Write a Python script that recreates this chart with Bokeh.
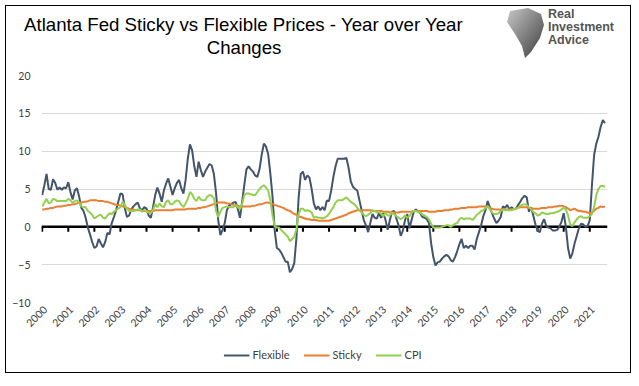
import math
from bokeh.plotting import figure
from bokeh.layouts import column
from bokeh.models import (FixedTicker, Span, Legend, LegendItem, Range1d, Div)
from bokeh.embed import file_html
from bokeh.resources import INLINE

# ---------------- data (monthly, Jan 2000 - Aug 2021) ----------------
start_year = 2000
flexible = [
    4.2, 5.5, 7.0, 5.0, 4.9, 6.3, 5.8, 4.9, 5.2, 4.9, 5.2, 5.1,
    5.9, 4.6, 3.6, 4.8, 5.1, 4.0, 2.5, 2.1, 1.2, -0.1, -1.0, -2.0,
    -2.8, -2.6, -1.6, -2.2, -2.7, -2.0, -0.8, -1.0, 0.5, 1.3, 2.2, 3.3,
    4.4, 4.3, 2.5, 1.3, 1.5, 2.3, 2.7, 3.0, 3.2, 2.4, 2.2, 2.6,
    2.4, 1.5, 1.2, 2.6, 4.2, 5.2, 4.4, 3.3, 4.8, 5.7, 6.4, 5.3,
    4.2, 5.1, 5.8, 6.2, 5.1, 4.4, 6.2, 9.0, 10.9, 10.1, 8.0, 6.6,
    8.6, 7.5, 6.6, 7.3, 7.8, 8.3, 8.1, 7.0, 4.5, 0.9, -1.1, -0.4,
    0.5, 2.2, 2.8, 3.0, 3.2, 3.3, 2.4, 1.2, 3.3, 5.5, 7.6, 8.0,
    7.6, 7.3, 6.8, 6.6, 7.6, 9.5, 11.0, 10.6, 9.6, 7.0, 4.0, -0.5,
    -2.8, -3.0, -3.4, -4.0, -4.6, -4.6, -6.0, -5.6, -4.8, -1.5, 3.8, 7.0,
    7.3, 6.2, 6.8, 6.5, 5.0, 3.1, 2.3, 2.7, 2.2, 2.6, 2.2, 3.5,
    3.4, 4.8, 6.6, 8.0, 9.0, 9.0, 9.0, 9.0, 9.1, 7.8, 6.0, 5.3,
    5.0, 4.8, 3.5, 2.2, 0.9, 0.2, -0.7, 0.5, 1.7, 1.2, 1.1, 1.8,
    1.2, 1.8, 0.9, -0.4, 0.9, 2.0, 2.1, 1.1, 0.2, -1.2, -0.5, 0.9,
    1.7, -0.2, 0.9, 2.0, 2.3, 2.0, 1.8, 1.3, 1.2, 1.0, 0.5, -2.2,
    -4.0, -5.1, -4.7, -4.6, -4.2, -3.9, -3.7, -3.9, -4.4, -4.6, -4.0, -3.2,
    -2.3, -1.6, -2.8, -2.5, -2.8, -2.5, -2.5, -3.0, -1.6, -0.7, 0.2, 1.4,
    2.2, 3.4, 2.6, 1.8, 1.1, 0.5, 0.8, 1.3, 2.7, 2.5, 2.9, 2.3,
    2.6, 2.3, 2.4, 2.9, 3.3, 3.8, 4.1, 3.9, 2.0, 2.6, 1.5, 0.3,
    -0.5, -0.7, 0.4, 1.0, 0.1, -0.1, -0.2, -0.5, -0.5, -0.4, 0.0, 0.7,
    1.8, 0.0, -2.8, -4.2, -3.5, -2.2, -1.2, -0.2, 0.4, 0.3, 0.0, 0.1,
    0.9, 5.5, 9.5, 11.0, 11.9, 13.2, 14.1, 13.7,
]
sticky = [
    2.3, 2.3, 2.4, 2.4, 2.5, 2.5, 2.6, 2.7, 2.7, 2.7, 2.8, 2.8,
    2.9, 2.9, 3.0, 3.0, 3.1, 3.2, 3.2, 3.3, 3.3, 3.4, 3.5, 3.5,
    3.5, 3.5, 3.4, 3.4, 3.4, 3.3, 3.3, 3.2, 3.1, 3.0, 2.9, 2.9,
    2.8, 2.7, 2.6, 2.5, 2.4, 2.3, 2.3, 2.2, 2.2, 2.2, 2.1, 2.1,
    2.1, 2.1, 2.1, 2.1, 2.2, 2.2, 2.2, 2.2, 2.2, 2.2, 2.2, 2.2,
    2.2, 2.3, 2.3, 2.3, 2.3, 2.3, 2.3, 2.4, 2.4, 2.4, 2.4, 2.4,
    2.5, 2.5, 2.6, 2.6, 2.7, 2.8, 2.9, 3.0, 3.1, 3.2, 3.2, 3.2,
    3.2, 3.1, 3.1, 3.0, 2.9, 2.8, 2.8, 2.7, 2.7, 2.7, 2.7, 2.7,
    2.7, 2.8, 2.8, 2.9, 3.0, 3.0, 3.1, 3.2, 3.2, 3.1, 3.0, 2.9,
    2.8, 2.7, 2.6, 2.5, 2.3, 2.2, 2.1, 1.9, 1.7, 1.6, 1.4, 1.3,
    1.2, 1.1, 1.0, 1.0, 0.9, 0.9, 0.9, 0.8, 0.8, 0.8, 0.8, 0.8,
    0.8, 0.9, 1.0, 1.1, 1.2, 1.3, 1.4, 1.5, 1.6, 1.8, 1.9, 2.0,
    2.1, 2.2, 2.2, 2.2, 2.2, 2.2, 2.2, 2.2, 2.1, 2.1, 2.1, 2.1,
    2.1, 2.0, 2.0, 2.0, 1.9, 1.9, 1.9, 1.9, 1.9, 2.0, 2.0, 2.0,
    2.0, 2.0, 2.0, 2.1, 2.1, 2.1, 2.1, 2.1, 2.1, 2.1, 2.0, 2.0,
    2.0, 2.0, 2.1, 2.1, 2.1, 2.2, 2.2, 2.2, 2.3, 2.3, 2.4, 2.4,
    2.4, 2.5, 2.5, 2.5, 2.6, 2.6, 2.6, 2.6, 2.6, 2.7, 2.7, 2.7,
    2.7, 2.7, 2.5, 2.4, 2.3, 2.3, 2.3, 2.3, 2.3, 2.3, 2.3, 2.3,
    2.3, 2.4, 2.4, 2.5, 2.6, 2.6, 2.6, 2.6, 2.5, 2.5, 2.4, 2.4,
    2.4, 2.4, 2.5, 2.5, 2.5, 2.6, 2.6, 2.6, 2.7, 2.7, 2.8, 2.8,
    2.7, 2.6, 2.4, 2.2, 2.3, 2.4, 2.2, 2.1, 2.1, 2.0, 2.0, 1.9,
    1.8, 1.9, 2.1, 2.4, 2.5, 2.7, 2.6, 2.7,
]
cpi = [
    2.7, 3.2, 3.7, 3.1, 3.2, 3.7, 3.6, 3.4, 3.4, 3.4, 3.4, 3.4,
    3.7, 3.5, 3.2, 3.4, 3.5, 3.2, 2.7, 2.6, 2.6, 2.1, 1.9, 1.6,
    1.1, 1.3, 1.5, 1.6, 1.2, 1.1, 1.5, 1.8, 1.7, 2.0, 2.2, 2.4,
    2.6, 3.3, 2.9, 2.4, 2.1, 2.1, 2.1, 2.2, 2.3, 2.3, 2.0, 2.2,
    2.0, 1.9, 1.8, 2.2, 3.0, 2.6, 3.1, 2.7, 2.6, 3.3, 3.5, 3.0,
    3.0, 3.3, 3.5, 3.4, 2.9, 2.6, 3.1, 3.7, 4.6, 4.3, 3.7, 3.4,
    4.0, 3.6, 3.5, 3.5, 4.0, 4.2, 4.1, 3.8, 2.1, 1.3, 2.0, 2.5,
    2.6, 2.7, 2.6, 2.6, 2.6, 2.9, 2.6, 2.3, 3.0, 4.2, 4.4, 4.4,
    4.3, 4.2, 4.2, 4.6, 5.0, 5.3, 5.5, 5.2, 4.8, 3.5, 1.5, 0.1,
    -0.1, -0.1, -0.4, -0.7, -1.0, -1.3, -1.9, -1.6, -1.3, -0.3, 1.7, 2.4,
    2.4, 2.1, 2.2, 2.1, 1.9, 1.2, 1.3, 1.2, 1.2, 1.1, 1.2, 1.4,
    1.7, 2.2, 2.6, 3.2, 3.5, 3.5, 3.5, 3.7, 3.9, 3.6, 3.3, 3.1,
    2.9, 2.5, 2.2, 1.9, 1.6, 1.4, 1.6, 1.8, 2.2, 2.1, 1.9, 2.0,
    1.7, 1.4, 1.9, 1.5, 1.5, 1.9, 1.7, 1.4, 1.2, 1.0, 1.2, 1.5,
    1.2, 1.4, 1.9, 2.1, 2.1, 2.0, 1.9, 1.6, 1.5, 1.3, 1.0, 0.4,
    -0.1, -0.1, -0.1, -0.1, 0.0, 0.1, 0.2, 0.2, 0.0, 0.2, 0.4, 0.5,
    1.0, 1.2, 1.0, 1.1, 1.1, 1.1, 0.9, 1.2, 1.6, 1.8, 2.1, 2.2,
    2.5, 2.7, 2.3, 1.9, 1.7, 1.7, 1.8, 2.1, 2.3, 2.2, 2.2, 2.2,
    2.2, 2.3, 2.4, 2.5, 2.8, 2.9, 3.0, 2.9, 2.6, 2.3, 2.0, 1.8,
    1.5, 1.6, 1.9, 1.8, 1.7, 1.7, 1.8, 1.8, 1.9, 2.0, 2.1, 2.3,
    2.5, 2.3, 1.5, 0.3, 0.1, 0.6, 1.0, 1.3, 1.4, 1.2, 1.2, 1.2,
    1.4, 1.7, 2.6, 4.2, 5.0, 5.4, 5.4, 5.3,
]
year_ticks = list(range(2000, 2022))
year_labels = [str(y) for y in year_ticks]
y_ticks = [-10, -5, 0, 5, 10, 15, 20]
series_names = ["Flexible", "Sticky", "CPI"]
title_line1 = "Atlanta Fed Sticky vs Flexible Prices - Year over Year"
title_line2 = "Changes"
logo_lines = ["Real", "Investment", "Advice"]

dates = [start_year + i / 12 for i in range(len(flexible))]
all_series = [flexible, sticky, cpi]
colors = ["#44546A", "#ED7D31", "#92D050"]
label_color = "#404040"

# ---------------- header (title + logo) ----------------
W = 624
HEAD_H = 64
logo_svg = (
    '<svg width="42" height="52" style="position:absolute;left:498px;top:1px">'
    '<defs><linearGradient id="g" x1="0" y1="0" x2="1" y2="1">'
    '<stop offset="0" stop-color="#c8c8c8"/><stop offset="1" stop-color="#3c3c3c"/>'
    '</linearGradient></defs>'
    '<polygon points="6,4 24,1 37,7 40,18 36,31 27,45 21,51 18,39 11,27 3,15" '
    'fill="url(#g)"/></svg>'
)
logo_text = "".join(
    f'<div style="position:absolute;left:542px;top:{2 + 13 * i}px;'
    f'font:bold 12.5px \'Liberation Sans\';line-height:13px;color:#555555;'
    f'white-space:nowrap">{t}</div>' for i, t in enumerate(logo_lines))
head_html = (
    f'<div style="position:relative;width:{W}px;height:{HEAD_H}px;'
    f'font-family:\'Liberation Sans\';color:#000">'
    f'<div style="position:absolute;left:18px;top:10px;font-size:18.67px;'
    f'line-height:1;white-space:nowrap">{title_line1}</div>'
    f'<div style="position:absolute;left:138px;width:200px;top:33px;'
    f'text-align:center;font-size:18.67px;line-height:1;white-space:nowrap">'
    f'{title_line2}</div>'
    f'{logo_svg}{logo_text}</div>'
)
header = Div(text=head_html, width=W, height=HEAD_H, margin=0)

# ---------------- main figure ----------------
H = 267
X0, X1 = 1999.973, 2021.68
shift = 3.0 * (X1 - X0) / 566.0   # moves year labels slightly right of their ticks
p = figure(width=W, height=H, output_backend="svg", toolbar_location=None,
           x_range=Range1d(X0, X1), y_range=Range1d(-10, 20),
           min_border_left=35, min_border_right=23, min_border_top=5,
           min_border_bottom=35, background_fill_color="white",
           border_fill_color="white", outline_line_color=None)
p.title.text = ""
p.extra_x_ranges = {"labels": Range1d(X0 - shift, X1 - shift)}

p.xgrid.visible = False
p.ygrid.ticker = FixedTicker(ticks=y_ticks)
p.ygrid.grid_line_color = "#D9D9D9"
p.ygrid.grid_line_width = 1

p.yaxis.ticker = FixedTicker(ticks=y_ticks)
p.yaxis.axis_line_color = None
p.yaxis.major_tick_line_color = None
p.yaxis.major_tick_out = 0
p.yaxis.major_tick_in = 0
p.yaxis.minor_tick_line_color = None
p.yaxis.minor_tick_out = 0
p.yaxis.major_label_standoff = 11
p.yaxis.major_label_text_font = "Lato"
p.yaxis.major_label_text_font_size = "10.5px"
p.yaxis.major_label_text_color = label_color

xa = p.xaxis[0]
xa.x_range_name = "labels"
xa.ticker = FixedTicker(ticks=year_ticks)
xa.major_label_overrides = {y: s for y, s in zip(year_ticks, year_labels)}
xa.axis_line_color = None
xa.major_tick_line_color = None
xa.major_tick_out = 0
xa.major_tick_in = 0
xa.minor_tick_line_color = None
xa.minor_tick_out = 0
xa.major_label_orientation = math.pi / 4
xa.major_label_standoff = 5
xa.major_label_text_font = "Lato"
xa.major_label_text_font_size = "10.5px"
xa.major_label_text_color = label_color

# zero axis line with year tick marks
zero = Span(location=0, dimension="width", line_color="black", line_width=2.5,
            level="underlay")
p.add_layout(zero)
p.segment(x0=year_ticks, y0=[0] * len(year_ticks), x1=year_ticks,
          y1=[-0.65] * len(year_ticks), line_color="black", line_width=2)

for name, vals, col in zip(series_names, all_series, colors):
    p.line(dates, vals, line_color=col, line_width=2)

# ---------------- legend strip ----------------
# same series drawn again but outside this strip's visible range: only their
# legend swatches show
leg = figure(width=W, height=35, output_backend="svg", toolbar_location=None,
             x_range=Range1d(0, 1), y_range=Range1d(100, 101),
             x_axis_type=None, y_axis_type=None, min_border_left=6,
             min_border_right=0, min_border_top=0, min_border_bottom=0,
             background_fill_color="white", border_fill_color="white",
             outline_line_color=None)
leg.title.text = ""
leg.grid.visible = False
leg_renderers = [leg.line(dates, vals, line_color=c, line_width=2)
                 for vals, c in zip(all_series, colors)]
legend = Legend(items=[LegendItem(label=n, renderers=[r])
                       for n, r in zip(series_names, leg_renderers)],
                orientation="horizontal", location="center",
                border_line_color=None, background_fill_alpha=0,
                label_text_font="Lato", label_text_font_size="11px",
                label_text_color=label_color, glyph_width=26, glyph_height=14,
                label_standoff=3, spacing=14, padding=0, margin=0)
leg.add_layout(legend)

layout = column(header, p, leg, spacing=0,
                styles={"margin": "5px 0 0 5px", "border": "1px solid #000000"})

open("out.html", "w").write(file_html(layout, INLINE))
